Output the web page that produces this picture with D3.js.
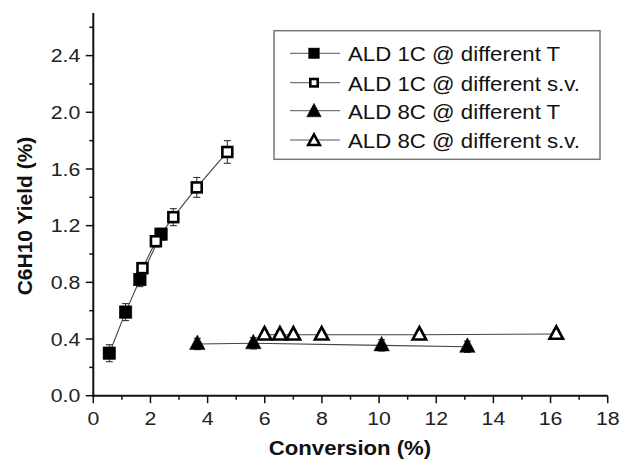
<!DOCTYPE html>
<html><head><meta charset="utf-8">
<script src="https://cdn.jsdelivr.net/npm/d3@7"></script>
<style>body{margin:0;background:#fff}svg{display:block}text{font-family:Arial,"Liberation Sans",sans-serif}</style>
</head><body>
<svg id="c" width="620" height="460"></svg>
<script>
// ---- data ----
const seriesNames = ["ALD 1C @ different T","ALD 1C @ different s.v.","ALD 8C @ different T","ALD 8C @ different s.v."];
const ald1cT_x   = [0.56, 1.13, 1.63, 2.37];
const ald1cT_y   = [0.30, 0.59, 0.82, 1.14];
const ald1cT_err = [0.06, 0.06, 0.05, 0.04];
const ald1cSV_x   = [1.72, 2.19, 2.80, 3.62, 4.69];
const ald1cSV_y   = [0.90, 1.09, 1.26, 1.47, 1.72];
const ald1cSV_err = [0.04, 0.04, 0.06, 0.07, 0.08];
const ald8cT_x   = [3.64, 5.60, 10.09, 13.09];
const ald8cT_y   = [0.365, 0.37, 0.355, 0.345];
const ald8cT_err = [0.04, 0.04, 0.04, 0.04];
const ald8cSV_x   = [5.99, 6.53, 7.00, 7.99, 11.41, 16.20];
const ald8cSV_y   = [0.43, 0.43, 0.43, 0.43, 0.43, 0.435];
const ald8cSV_err = [0.03, 0.03, 0.03, 0.03, 0.03, 0.03];
const xTicks = [0,2,4,6,8,10,12,14,16,18];
const yTicks = [0.0,0.4,0.8,1.2,1.6,2.0,2.4];
const xTitle = "Conversion (%)";
const yTitle = "C6H10 Yield (%)";

const svg = d3.select("#c");
const x = d3.scaleLinear().domain([0,18]).range([93.3,607.7]);
const y = d3.scaleLinear().domain([0,2.7]).range([395.7,13.1]);

const series = [
  {name:seriesNames[0], xs:ald1cT_x, ys:ald1cT_y, es:ald1cT_err, shape:"square", fill:true},
  {name:seriesNames[1], xs:ald1cSV_x, ys:ald1cSV_y, es:ald1cSV_err, shape:"square", fill:false},
  {name:seriesNames[2], xs:ald8cT_x, ys:ald8cT_y, es:ald8cT_err, shape:"triangle", fill:true},
  {name:seriesNames[3], xs:ald8cSV_x, ys:ald8cSV_y, es:ald8cSV_err, shape:"triangle", fill:false}
];

function marker(g, shape, fill, cx, cy, size){
  if(shape==="square"){
    const s = fill? size : size-2.6;
    g.append("rect").attr("x",cx-s/2).attr("y",cy-s/2).attr("width",s).attr("height",s)
      .attr("fill",fill?"#000":"#fff").attr("stroke","#000").attr("stroke-width",fill?0.5:2.6);
  } else {
    const w = fill? size+2.5 : size+0.5, h = fill? size+1.5 : size-0.5;
    const pts = [[cx,cy-h*0.62],[cx-w/2,cy+h*0.38],[cx+w/2,cy+h*0.38]];
    g.append("path").attr("d","M"+pts.map(p=>p.join(",")).join("L")+"Z")
      .attr("fill",fill?"#000":"#fff").attr("stroke","#000").attr("stroke-width",fill?0.5:2.6)
      .attr("stroke-linejoin","miter");
  }
}

// lines + error bars + markers
const plot = svg.append("g");
series.forEach(s=>{
  const pts = s.xs.map((v,i)=>[v,s.ys[i],s.es[i]]);
  plot.append("path").attr("d", d3.line().x(d=>x(d[0])).y(d=>y(d[1]))(pts))
    .attr("fill","none").attr("stroke","#444").attr("stroke-width",1.1);
});
series.forEach(s=>{
  const pts = s.xs.map((v,i)=>[v,s.ys[i],s.es[i]]);
  const g = plot.append("g");
  pts.forEach(d=>{
    const cx=x(d[0]), y0=y(d[1]-d[2]), y1=y(d[1]+d[2]);
    g.append("line").attr("x1",cx).attr("x2",cx).attr("y1",y0).attr("y2",y1).attr("stroke","#333").attr("stroke-width",1.1);
    [y0,y1].forEach(yy=>g.append("line").attr("x1",cx-3.5).attr("x2",cx+3.5).attr("y1",yy).attr("y2",yy).attr("stroke","#333").attr("stroke-width",1.1));
  });
  pts.forEach(d=>marker(g, s.shape, s.fill, x(d[0]), y(d[1]), s.shape==="square"?12.5:13));
});

// axes
const xAxis = svg.append("g").attr("transform","translate(0,395.7)");
xAxis.append("line").attr("x1",x(0)-1).attr("x2",x(18)).attr("stroke","#111").attr("stroke-width",2);
d3.range(0,19,1).forEach(v=>{
  const major = v%2===0;
  xAxis.append("line").attr("x1",x(v)).attr("x2",x(v)).attr("y1",0).attr("y2",major?7.5:4).attr("stroke","#111").attr("stroke-width",1.5);
});
xAxis.selectAll("text.t").data(xTicks).enter().append("text").attr("class","t")
  .attr("transform",d=>`translate(${x(d)},29.5) scale(1.12,1)`).attr("text-anchor","middle").attr("font-size",19).attr("fill","#222")
  .text(d=>d3.format("d")(d));

const yAxis = svg.append("g").attr("transform","translate(93.3,0)");
yAxis.append("line").attr("y1",y(2.7)).attr("y2",y(0)+1).attr("stroke","#111").attr("stroke-width",2);
d3.range(0,14,1).forEach(i=>{
  const v=i*0.2, major = i%2===0;
  yAxis.append("line").attr("x1",0).attr("x2",major?-7.5:-4).attr("y1",y(v)).attr("y2",y(v)).attr("stroke","#111").attr("stroke-width",1.5);
});
yAxis.selectAll("text.t").data(yTicks).enter().append("text").attr("class","t")
  .attr("transform",d=>`translate(-13,${y(d)+6.7}) scale(1.12,1)`).attr("text-anchor","end").attr("font-size",19).attr("fill","#222")
  .text(d=>d3.format(".1f")(d));

// titles
svg.append("text").attr("transform","translate(350,454.5) scale(1.08,1)").attr("text-anchor","middle").attr("font-size",20.5)
  .attr("font-weight","bold").attr("fill","#111").text(xTitle);
svg.append("text").attr("transform","translate(32,216) rotate(-90)").attr("text-anchor","middle").attr("font-size",21)
  .attr("font-weight","bold").attr("fill","#111").text(yTitle);

// legend
const leg = svg.append("g");
leg.append("rect").attr("x",274).attr("y",30.7).attr("width",326).attr("height",128.6)
  .attr("fill","#fff").attr("stroke","#777").attr("stroke-width",1.5);
const legY = [53.3, 82.7, 110.7, 140];
series.forEach((s,i)=>{
  const cy = legY[i];
  leg.append("line").attr("x1",290).attr("x2",340).attr("y1",cy).attr("y2",cy).attr("stroke","#555").attr("stroke-width",1);
  const g = leg.append("g");
  if(s.shape==="square") marker(g, s.shape, s.fill, 314, cy, s.fill?10.5:10);
  else marker(g, s.shape, s.fill, 314, cy+1, s.fill?12:11);
  leg.append("text").attr("transform",`translate(348,${cy+7.8}) scale(1.06,1)`).attr("font-size",21).attr("fill","#111").text(s.name);
});
</script>
</body></html>
